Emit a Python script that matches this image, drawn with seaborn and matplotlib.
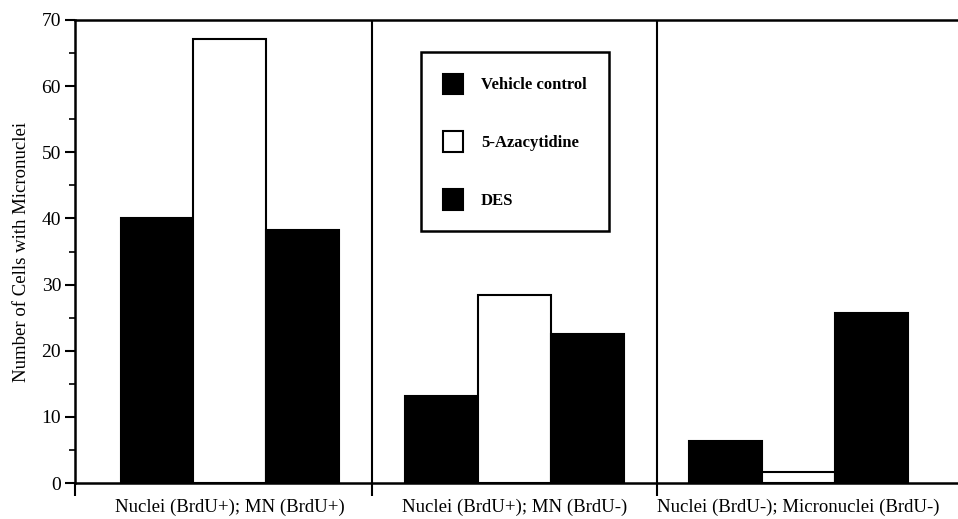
import matplotlib
matplotlib.use("Agg")
import matplotlib.pyplot as plt
import seaborn as sns
import pandas as pd

categories = ["Nuclei (BrdU+); MN (BrdU+)", "Nuclei (BrdU+); MN (BrdU-)", "Nuclei (BrdU-); Micronuclei (BrdU-)"]
treatments = ["Vehicle control", "5-Azacytidine", "DES"]
vehicle = [40.0, 13.1, 6.4]
azacytidine = [67.1, 28.4, 1.6]
des = [38.3, 22.5, 25.7]

rows = []
for t, vals in zip(treatments, [vehicle, azacytidine, des]):
    for c, v in zip(categories, vals):
        rows.append({"category": c, "treatment": t, "value": v})
df = pd.DataFrame(rows)

sns.set_theme(style="white")
plt.rcParams["font.family"] = ["Liberation Serif", "DejaVu Serif"]
plt.rcParams["text.color"] = "black"
plt.rcParams["axes.labelcolor"] = "black"
plt.rcParams["xtick.color"] = "black"
plt.rcParams["ytick.color"] = "black"

fig = plt.figure(figsize=(9.58, 5.19), dpi=100)
ax = fig.add_axes([75/958, 1-483/519, 1-75/958, (483-20)/519])

palette = {"Vehicle control": "black", "5-Azacytidine": "white", "DES": "black"}
sns.barplot(data=df, x="category", y="value", hue="treatment", order=categories,
            hue_order=treatments, palette=palette, edgecolor="black", linewidth=1.5,
            width=0.77, saturation=1, ax=ax)

ax.set_xlim(-0.545, 2.56)
ax.set_ylim(0, 70)
ax.set_yticks(range(0, 71, 10))
ax.set_yticks(range(5, 70, 10), minor=True)
ax.set_xticks([-0.545, 0.5, 1.5], minor=True)
ax.tick_params(axis="y", which="major", direction="out", length=7, width=1.5, labelsize=14, pad=3, left=True, colors="black")
ax.tick_params(axis="y", which="minor", direction="out", length=4, width=1.2, left=True, colors="black")
ax.tick_params(axis="x", which="major", length=0, labelsize=13.5, pad=11, colors="black")
ax.tick_params(axis="x", which="minor", direction="out", length=9, width=1.5, bottom=True, colors="black")
for sp in ["left", "bottom", "top"]:
    ax.spines[sp].set_visible(True)
    ax.spines[sp].set_linewidth(1.8)
    ax.spines[sp].set_color("black")
ax.spines["right"].set_visible(False)

for xv in [0.5, 1.5]:
    ax.axvline(xv, color="black", linewidth=1.5)

ax.set_xlabel("")
ax.set_ylabel("Number of Cells with Micronuclei", fontsize=13.5, labelpad=8, color="black")

handles, labels = ax.get_legend_handles_labels()
for h in handles:
    h.set_edgecolor("black")
    h.set_linewidth(1.5)
leg = ax.legend(handles, labels, loc="upper left", bbox_to_anchor=(0.392, 0.931),
                borderaxespad=0, frameon=True, fancybox=False, framealpha=1,
                edgecolor="black", handlelength=1.2, handleheight=1.5,
                labelspacing=2.25, borderpad=1.3, handletextpad=1.1,
                prop={"family": ["Liberation Serif"], "weight": "bold", "size": 12})
leg.get_frame().set_linewidth(1.8)
for t in leg.get_texts():
    t.set_color("black")

fig.savefig("out.png", dpi=100)
